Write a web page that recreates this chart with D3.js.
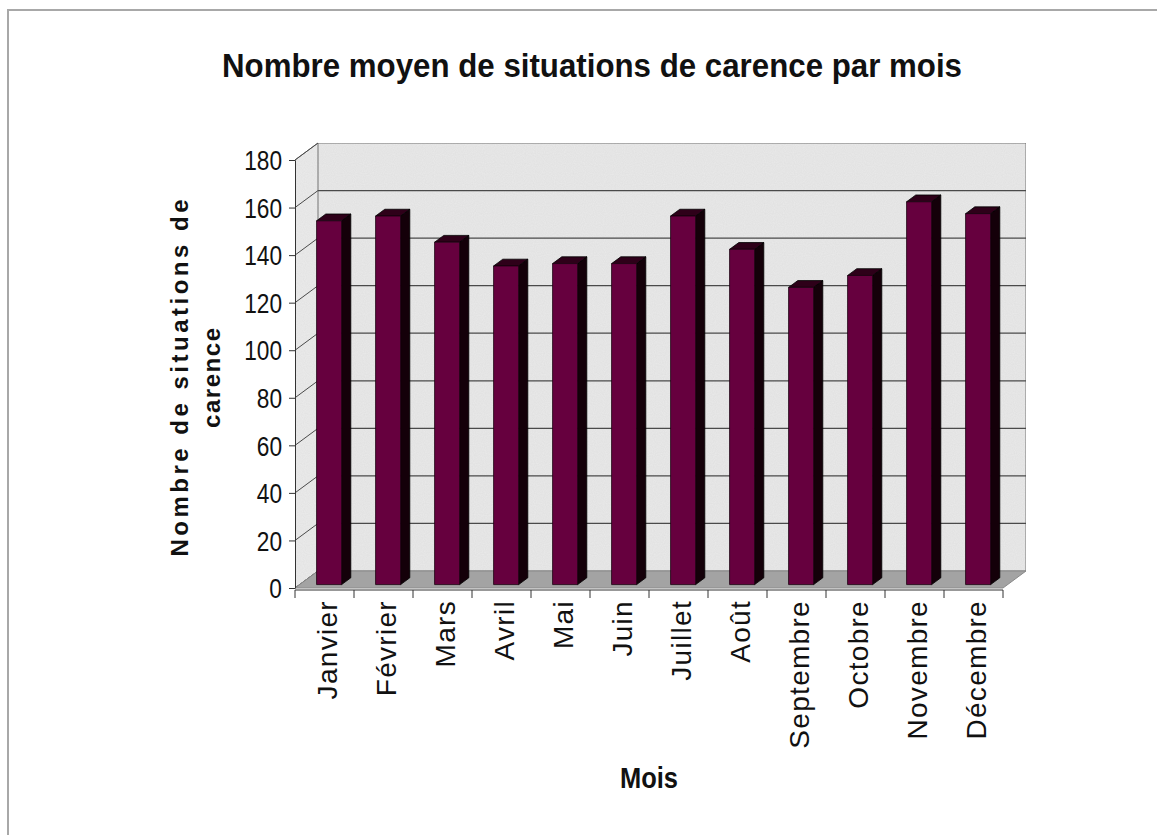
<!DOCTYPE html>
<html>
<head>
<meta charset="utf-8">
<script src="https://cdn.jsdelivr.net/npm/d3@7"></script>
<style>
  body { margin: 0; background: #fff; }
  text { font-family: "Liberation Sans", Arial, sans-serif; fill: #111; }
</style>
</head>
<body>
<div id="chart"></div>
<script>
// data
const months = ["Janvier", "Février", "Mars", "Avril", "Mai", "Juin",
  "Juillet", "Août", "Septembre", "Octobre", "Novembre", "Décembre"];
const values = [153, 155, 144, 134, 135, 135, 155, 141, 125, 130, 161, 156];
const yTicks = [0, 20, 40, 60, 80, 100, 120, 140, 160, 180];

const W = 1157, H = 835;
// depth offset of the 3d box (back wall vs front axis)
const DX = 23, DY = -17;
const zFront = 0.2, zBack = 0.6;

const svg = d3.select("#chart").append("svg")
  .attr("width", W).attr("height", H);

// paper grain for the walls
const defs = svg.append("defs");
const f = defs.append("filter").attr("id", "grain")
  .attr("x", 0).attr("y", 0).attr("width", 1).attr("height", 1);
f.append("feTurbulence").attr("type", "fractalNoise")
  .attr("baseFrequency", 0.9).attr("numOctaves", 1).attr("seed", 3).attr("result", "n");
f.append("feColorMatrix").attr("in", "n").attr("type", "matrix")
  .attr("values", "0 0 0 0 0  0 0 0 0 0  0 0 0 0 0  0 0 0 0.1 0").attr("result", "a");
f.append("feComposite").attr("in", "a").attr("in2", "SourceGraphic").attr("operator", "in").attr("result", "b");
f.append("feMerge").call(m => {
  m.append("feMergeNode").attr("in", "SourceGraphic");
  m.append("feMergeNode").attr("in", "b");
});

// page border (top + left)
svg.append("path")
  .attr("d", `M8,${H} L8,10 L${W},10`)
  .attr("fill", "none").attr("stroke", "#a8a8a8").attr("stroke-width", 2);

// scales
const y = d3.scaleLinear().domain([0, 180]).range([588, 160]);
const x = d3.scaleBand().domain(months).range([295, 1003])
  .paddingInner(0.576).paddingOuter(0.288);
const x0 = x.range()[0], x1 = x.range()[1];

const P = (px, py, z) => [px + DX * z, py + DY * z];
const poly = pts => "M" + pts.map(p => p.join(",")).join("L") + "Z";

// back wall + left wall
svg.append("path")
  .attr("d", poly([P(x0, y(0), 1), P(x0, y(180), 1), P(x1, y(180), 1), P(x1, y(0), 1)]))
  .attr("fill", "#eaeaea").attr("stroke", "#777").attr("stroke-width", 1)
  .attr("filter", "url(#grain)");
svg.append("path")
  .attr("d", poly([P(x0, y(0), 0), P(x0, y(180), 0), P(x0, y(180), 1), P(x0, y(0), 1)]))
  .attr("fill", "#ececec").attr("stroke", "#777").attr("stroke-width", 1)
  .attr("filter", "url(#grain)");

// gridlines on the back wall and the left wall
const grid = svg.append("g").attr("fill", "none").attr("stroke", "#4a4a4a").attr("stroke-width", 1.2);
grid.selectAll(".gb").data(yTicks.filter(d => d > 0 && d < 180)).join("line")
  .attr("x1", P(x0, 0, 1)[0]).attr("x2", P(x1, 0, 1)[0])
  .attr("y1", d => P(0, y(d), 1)[1]).attr("y2", d => P(0, y(d), 1)[1]);
grid.selectAll(".gl").data(yTicks).join("line")
  .attr("stroke-width", 1)
  .attr("x1", x0).attr("y1", d => y(d))
  .attr("x2", P(x0, 0, 1)[0]).attr("y2", d => P(0, y(d), 1)[1]);

// floor
svg.append("path")
  .attr("d", poly([P(x0, y(0), 0), P(x1, y(0), 0), P(x1, y(0), 1), P(x0, y(0), 1)]))
  .attr("fill", "#a3a3a3").attr("stroke", "#8a8a8a").attr("stroke-width", 1);

// bars
const bw = x.bandwidth();
const bars = svg.append("g").selectAll("g").data(months.map((m, i) => ({ m, v: values[i] })))
  .join("g");
bars.each(function(d) {
  const g = d3.select(this);
  const l = x(d.m), r = l + bw, t = y(d.v), b = y(0);
  const fTL = P(l, t, zFront), fTR = P(r, t, zFront), fBR = P(r, b, zFront), fBL = P(l, b, zFront);
  const bTL = P(l, t, zBack), bTR = P(r, t, zBack), bBR = P(r, b, zBack);
  g.append("path").attr("d", poly([fTR, bTR, bBR, fBR]))
    .attr("fill", "#140009").attr("stroke", "#000").attr("stroke-width", 0.8);
  g.append("path").attr("d", poly([fTL, fTR, bTR, bTL]))
    .attr("fill", "#2e0019").attr("stroke", "#000").attr("stroke-width", 0.8);
  g.append("path").attr("d", poly([fTL, fTR, fBR, fBL]))
    .attr("fill", "#66003e").attr("stroke", "#1a0010").attr("stroke-width", 0.8);
});

// y axis
const yAxis = svg.append("g").attr("transform", `translate(${x0},0)`)
  .call(d3.axisLeft(y).tickValues(yTicks).tickSize(6).tickPadding(7).tickSizeOuter(0));
yAxis.select(".domain").attr("stroke", "#333");
yAxis.selectAll(".tick line").attr("stroke", "#333");
yAxis.selectAll(".tick text")
  .attr("font-size", 27).attr("fill", "#111")
  .attr("font-family", "'Liberation Sans', Arial, sans-serif")
  .attr("dy", "0.36em")
  .each(function() {
    const w = this.getComputedTextLength();
    d3.select(this).attr("textLength", w * 0.84).attr("lengthAdjust", "spacingAndGlyphs");
  });

// x axis line and ticks at category boundaries
const xAxis = svg.append("g").attr("stroke", "#333").attr("stroke-width", 1);
xAxis.append("line").attr("x1", x0).attr("x2", x1).attr("y1", 590).attr("y2", 590);
xAxis.selectAll(".xt").data(d3.range(months.length + 1)).join("line")
  .attr("x1", i => x0 + i * x.step()).attr("x2", i => x0 + i * x.step())
  .attr("y1", 590).attr("y2", 598);

// month labels
svg.append("g").selectAll("text").data(months).join("text")
  .attr("transform", d => `translate(${x(d) + bw / 2 + 2},600) rotate(-90)`)
  .attr("text-anchor", "end").attr("dy", "0.36em")
  .attr("font-size", 28).attr("letter-spacing", 1.3)
  .text(d => d);

// titles
svg.append("text")
  .attr("x", 592).attr("y", 77).attr("text-anchor", "middle")
  .attr("font-size", 34).attr("font-weight", "bold")
  .attr("textLength", 740).attr("lengthAdjust", "spacingAndGlyphs")
  .text("Nombre moyen de situations de carence par mois");

svg.append("text")
  .attr("transform", "translate(188,378) rotate(-90)")
  .attr("text-anchor", "middle")
  .attr("font-size", 24).attr("font-weight", "bold")
  .attr("textLength", 357).attr("lengthAdjust", "spacing")
  .text("Nombre de situations de");
svg.append("text")
  .attr("transform", "translate(220,378) rotate(-90)")
  .attr("text-anchor", "middle")
  .attr("font-size", 24).attr("font-weight", "bold")
  .attr("textLength", 100).attr("lengthAdjust", "spacing")
  .text("carence");

svg.append("text")
  .attr("x", 649).attr("y", 788).attr("text-anchor", "middle")
  .attr("font-size", 29).attr("font-weight", "bold")
  .attr("textLength", 58).attr("lengthAdjust", "spacingAndGlyphs")
  .text("Mois");
</script>
</body>
</html>
